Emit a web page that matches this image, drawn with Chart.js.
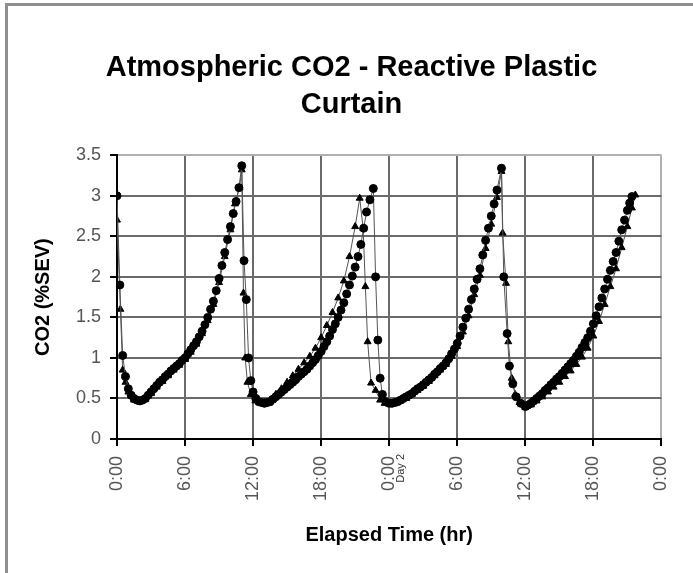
<!DOCTYPE html>
<html>
<head>
<meta charset="utf-8">
<script src="https://cdn.jsdelivr.net/npm/chart.js@4.4.1/dist/chart.umd.min.js"></script>
<style>
  html, body { margin: 0; padding: 0; background: #fff; overflow: hidden; }
  #wrap { position: relative; width: 693px; height: 573px; }
  #frame { position: absolute; left: 5px; top: 3px; width: 700px; height: 600px;
           border-left: 3px solid #8f8f8f; border-top: 3px solid #8f8f8f; pointer-events: none; }
</style>
</head>
<body>
<div id="wrap">
  <canvas id="co2Chart" width="693" height="573"></canvas>
  <div id="frame"></div>
</div>
<script>
// texts
const chartTitle = ['Atmospheric CO2 - Reactive Plastic', 'Curtain'];
const yTitle = 'CO2 (%SEV)';
const xTitle = 'Elapsed Time (hr)';
const dayText = 'Day 2';

// series 1 (circles): elapsed hours / CO2 %SEV
const hoursA = [
  0, 0.25, 0.5, 0.75, 1, 1.25, 1.5, 1.75, 2, 2.25, 2.5, 2.75, 3, 3.25, 3.5, 3.75, 4, 4.25, 4.5, 4.75,
  5, 5.25, 5.5, 5.75, 6, 6.25, 6.5, 6.75, 7, 7.25, 7.5, 7.75, 8, 8.25, 8.5, 8.75, 9, 9.25, 9.5, 9.75,
  10, 10.25, 10.5, 10.75, 11, 11.2, 11.4, 11.6, 11.8, 12, 12.25, 12.5, 12.75, 13, 13.25, 13.5, 13.75,
  14, 14.25, 14.5, 14.75, 15, 15.25, 15.5, 15.75, 16, 16.25, 16.5, 16.75, 17, 17.25, 17.5, 17.75,
  18, 18.25, 18.5, 18.75, 19, 19.25, 19.5, 19.75, 20, 20.25, 20.5, 20.75, 21, 21.25, 21.5, 21.75,
  22, 22.3, 22.6, 22.8, 23, 23.2, 23.4, 23.7,
  24, 24.25, 24.5, 24.75, 25, 25.25, 25.5, 25.75, 26, 26.25, 26.5, 26.75, 27, 27.25, 27.5, 27.75,
  28, 28.25, 28.5, 28.75, 29, 29.25, 29.5, 29.75, 30, 30.25, 30.5, 30.75, 31, 31.25, 31.5, 31.75,
  32, 32.25, 32.5, 32.75, 33, 33.25, 33.5, 33.9, 34.1, 34.4, 34.6, 34.9, 35.2, 35.6,
  36, 36.25, 36.5, 36.75, 37, 37.25, 37.5, 37.75, 38, 38.25, 38.5, 38.75, 39, 39.25, 39.5, 39.75,
  40, 40.25, 40.5, 40.75, 41, 41.25, 41.5, 41.75, 42, 42.25, 42.5, 42.75, 43, 43.25, 43.5, 43.75,
  44, 44.25, 44.5, 44.75, 45, 45.2, 45.4
];
const co2A = [
  3.0, 1.9, 1.03, 0.77, 0.62, 0.54, 0.5, 0.48, 0.47, 0.48, 0.5, 0.54, 0.58, 0.62, 0.66, 0.7, 0.73, 0.77, 0.8, 0.84,
  0.87, 0.9, 0.93, 0.97, 1.0, 1.05, 1.1, 1.15, 1.2, 1.26, 1.33, 1.41, 1.5, 1.6, 1.7, 1.83, 1.98, 2.14, 2.3, 2.46,
  2.62, 2.78, 2.93, 3.1, 3.37, 2.2, 1.72, 1.0, 0.72, 0.58, 0.5, 0.46, 0.45, 0.44, 0.45, 0.46, 0.49,
  0.52, 0.55, 0.58, 0.61, 0.64, 0.67, 0.7, 0.73, 0.77, 0.8, 0.83, 0.86, 0.9, 0.94, 0.98, 1.03,
  1.08, 1.14, 1.2, 1.27, 1.35, 1.42, 1.5, 1.59, 1.68, 1.79, 1.9, 2.01, 2.12, 2.25, 2.4, 2.6,
  2.8, 2.95, 3.09, 2.0, 1.22, 0.75, 0.55, 0.46,
  0.44, 0.44, 0.45, 0.46, 0.48, 0.5, 0.52, 0.54, 0.56, 0.59, 0.62, 0.64, 0.67, 0.7, 0.73, 0.76,
  0.8, 0.83, 0.87, 0.9, 0.94, 0.99, 1.05, 1.11, 1.18, 1.27, 1.38, 1.49, 1.6, 1.72, 1.85, 1.97,
  2.1, 2.27, 2.45, 2.6, 2.75, 2.9, 3.07, 3.34, 2.0, 1.3, 0.9, 0.68, 0.52, 0.44,
  0.4, 0.42, 0.44, 0.47, 0.5, 0.53, 0.56, 0.6, 0.63, 0.67, 0.7, 0.74, 0.77, 0.81, 0.85, 0.89,
  0.93, 0.97, 1.02, 1.07, 1.13, 1.19, 1.25, 1.33, 1.42, 1.52, 1.63, 1.74, 1.85, 1.97, 2.08, 2.19,
  2.3, 2.44, 2.58, 2.7, 2.82, 2.91, 2.99
];

// series 2 (triangles)
const hoursB = [
  0, 0.3, 0.5, 0.75, 1, 1.5, 2, 2.5, 3, 3.5, 4, 4.5, 5, 5.5, 6, 6.5, 7, 7.5, 8, 8.5, 9, 9.5, 10, 10.4,
  10.8, 11.0, 11.15, 11.3, 11.5, 11.8, 12.2, 12.6, 13, 13.5, 14, 14.5, 15, 15.5, 16, 16.5, 17, 17.5,
  18, 18.5, 19, 19.5, 20, 20.5, 21, 21.4, 21.7, 21.9, 22.1, 22.4, 22.8, 23.2, 23.6,
  24, 24.5, 25, 25.5, 26, 26.5, 27, 27.5, 28, 28.5, 29, 29.5, 30, 30.5, 31, 31.5, 32, 32.5, 33, 33.5,
  33.9, 34.0, 34.3, 34.5, 34.8, 35.1, 35.5,
  36, 36.5, 37, 37.5, 38, 38.5, 39, 39.5, 40, 40.5, 41, 41.5, 42, 42.5, 43, 43.5, 44, 44.5, 45, 45.4, 45.7
];
const co2B = [
  2.7, 1.6, 0.85, 0.7, 0.58, 0.48, 0.46, 0.49, 0.56, 0.64, 0.71, 0.78, 0.85, 0.91, 0.98, 1.07, 1.17, 1.3, 1.46, 1.66, 1.93, 2.25, 2.58, 2.9,
  3.1, 3.32, 1.8, 1.0, 0.7, 0.55, 0.47, 0.45, 0.45, 0.48, 0.55, 0.62, 0.7, 0.78, 0.86, 0.94, 1.02, 1.12,
  1.25, 1.4, 1.56, 1.74, 1.95, 2.25, 2.62, 2.97, 2.6, 1.88, 1.2, 0.69, 0.6, 0.48, 0.44,
  0.43, 0.44, 0.47, 0.5, 0.55, 0.6, 0.65, 0.71, 0.78, 0.85, 0.92, 1.02, 1.14, 1.32, 1.52, 1.78, 2.02, 2.35, 2.65, 2.98,
  3.3, 2.54, 1.92, 1.2, 0.75, 0.55, 0.45,
  0.39, 0.42, 0.47, 0.52, 0.58, 0.64, 0.7, 0.77, 0.84, 0.92, 1.01, 1.12, 1.27, 1.45, 1.66, 1.88, 2.1, 2.36, 2.62, 2.85, 3.01
];

const toPoints = (xs, ys) => xs.map((h, i) => ({ x: h, y: ys[i] }));
const baseFont = '"Liberation Sans", Arial, sans-serif';

// small rotated "Day 2" note next to the second 0:00 tick
const dayLabel = {
  id: 'dayLabel',
  afterDraw(chart) {
    const { ctx, scales: { x }, chartArea } = chart;
    const px = x.getPixelForValue(24);
    ctx.save();
    ctx.translate(px + 12, chartArea.bottom + 15);
    ctx.rotate(-Math.PI / 2);
    ctx.font = '11px ' + baseFont;
    ctx.fillStyle = '#333';
    ctx.textAlign = 'right';
    ctx.textBaseline = 'middle';
    ctx.fillText(dayText, 0, 0);
    ctx.restore();
  }
};

new Chart(document.getElementById('co2Chart'), {
  type: 'line',
  data: {
    datasets: [{
      data: toPoints(hoursA, co2A),
      borderColor: '#555',
      borderWidth: 1,
      pointStyle: 'circle',
      pointRadius: 4,
      pointBackgroundColor: '#000',
      pointBorderColor: '#000',
      tension: 0
    }, {
      data: toPoints(hoursB, co2B),
      borderColor: '#555',
      borderWidth: 1,
      pointStyle: 'triangle',
      pointRadius: 4,
      pointBackgroundColor: '#000',
      pointBorderColor: '#000',
      tension: 0
    }]
  },
  options: {
    responsive: false,
    animation: false,
    // left padding moves the title centre to the right like in the source
    layout: { padding: { left: 40, right: 30, top: 0, bottom: 0 } },
    plugins: {
      legend: { display: false },
      tooltip: { enabled: false },
      title: {
        display: true,
        text: chartTitle,
        color: '#000',
        font: { family: baseFont, size: 29, weight: 'bold', lineHeight: 1.28 },
        padding: { top: 49, bottom: 32 }
      }
    },
    scales: {
      x: {
        type: 'linear',
        min: 0,
        max: 48,
        afterFit: s => { s.height = 134; },
        ticks: {
          stepSize: 6,
          minRotation: 90,
          maxRotation: 90,
          padding: 10,
          color: '#555',
          font: { family: baseFont, size: 18 },
          callback: v => (v % 24) + ':00'
        },
        grid: {
          color: c => c.tick && c.tick.value === 48 ? '#b0b0b0' : '#6a6a6a',
          lineWidth: 2,
          tickLength: 7,
          tickColor: '#000'
        },
        border: { color: '#000', width: 2 },
        title: {
          display: true,
          text: xTitle,
          color: '#000',
          font: { family: baseFont, size: 20, weight: 'bold' },
          padding: { top: 0, bottom: 26 }
        }
      },
      y: {
        min: 0,
        max: 3.5,
        afterFit: s => { s.width = 77; },
        ticks: {
          stepSize: 0.5,
          padding: 9,
          color: '#555',
          font: { family: baseFont, size: 18 },
          callback: v => String(v)
        },
        grid: {
          color: c => c.tick && c.tick.value === 3.5 ? '#b0b0b0' : '#6a6a6a',
          lineWidth: 2,
          tickLength: 7,
          tickColor: '#000'
        },
        border: { color: '#000', width: 2 },
        title: {
          display: true,
          text: yTitle,
          color: '#000',
          font: { family: baseFont, size: 20, weight: 'bold' },
          padding: { top: -9, bottom: 0 }
        }
      }
    }
  },
  plugins: [dayLabel]
});
</script>
</body>
</html>
